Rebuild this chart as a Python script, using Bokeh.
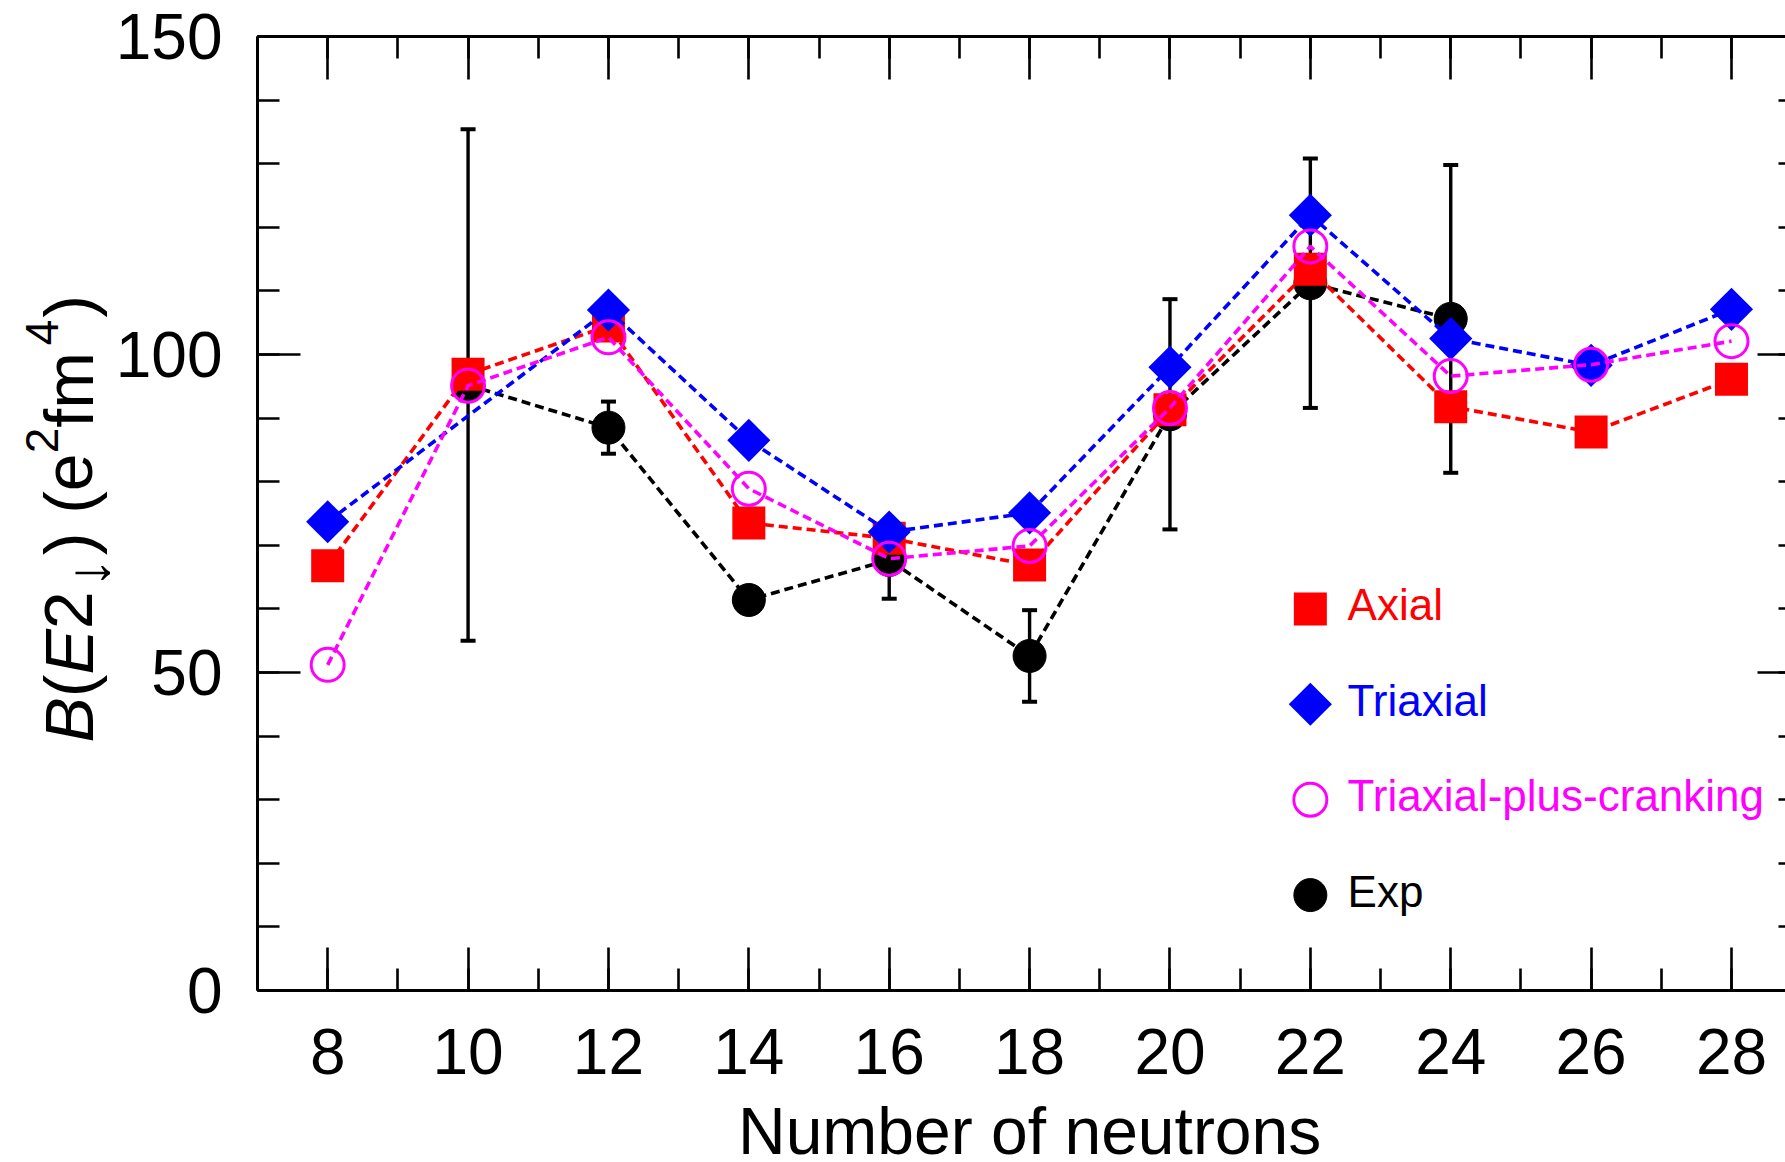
import numpy as np
from bokeh.plotting import figure
from bokeh.layouts import row, column
from bokeh.models import (Range1d, LinearAxis, SingleIntervalTicker, ColumnDataSource,
                          Whisker, TeeHead)
from bokeh.core.properties import value
from bokeh.embed import file_html
from bokeh.resources import INLINE

# Neutron numbers
neutrons = [8, 10, 12, 14, 16, 18, 20, 22, 24, 26, 28]

# B(E2; down) in e^2 fm^4
axial = [66.8, 96.9, 104.5, 73.5, 71.1, 66.9, 91.3, 113.4, 91.8, 87.8, 96.1]

triaxial_n = [8, 12, 14, 16, 18, 20, 22, 24, 26, 28]
triaxial = [73.7, 107.0, 86.5, 72.1, 75.1, 98.0, 121.9, 102.5, 98.3, 107.1]

cranking = [51.2, 95.1, 102.7, 78.9, 67.9, 69.9, 91.6, 117.0, 96.6, 98.4, 102.1]

exp_n = [10, 12, 14, 16, 18, 20, 22, 24]
exp_val = [95.2, 88.5, 61.4, 67.7, 52.6, 90.6, 111.2, 105.6]
exp_err = [40.2, 4.1, 0.0, 6.1, 7.2, 18.1, 19.6, 24.2]

legend_labels = ["Axial", "Triaxial", "Triaxial-plus-cranking", "Exp"]
legend_rows = [60, 45, 30, 15]

x_title = "Number of neutrons"

RED, BLUE, MAG, BLK = "#ff0000", "#0000ff", "#ff00ff", "#000000"
FONT = "Liberation Sans"
DASH = "9 5"
LW = 3.6
MID = 0.35               # baseline-to-middle distance, in em

# Helvetica/Arial advance widths (1/1000 em) for the title strings
ADV = {"B": 667, "(": 333, "E": 667, "2": 556, "\u2193": 500, ")": 333, " ": 278,
       "e": 556, "f": 278, "m": 833, "4": 556, "N": 722, "u": 556, "b": 556, "r": 333,
       "o": 556, "n": 556, "t": 278, "s": 500}


def text_width(s, size):
    return sum(ADV[c] for c in s) * size / 1000


# page geometry (pixels)
W, H = 1785, 1162
TITLE_W = 110            # strip on the left holding the rotated y title
TITLE_H = 58             # strip at the bottom holding the x title
PW = W - TITLE_W
PH = H - TITLE_H
L, T = 257 - TITLE_W, 36  # borders of the main plot
frame_h = 954
Bm = PH - T - frame_h
frame_w = PW - L
px_per_n = 70.19
x_end = 7 + frame_w / px_per_n
px_per_b = frame_h / 150

p = figure(width=PW, height=PH, x_range=Range1d(7, x_end), y_range=Range1d(0, 150),
           title=None, output_backend="svg", toolbar_location=None,
           x_axis_type=None, y_axis_type=None, frame_align=False,
           min_border_left=L, min_border_right=0, min_border_top=T, min_border_bottom=Bm,
           background_fill_color="white", border_fill_color="white")
p.outline_line_color = None
p.grid.visible = False


def axis(ticker, tick_in, minor_in, labels=True, standoff=0, line=True):
    ax = LinearAxis(ticker=ticker,
                    major_tick_in=tick_in, major_tick_out=0,
                    minor_tick_in=minor_in, minor_tick_out=0,
                    axis_line_width=3, major_tick_line_width=2.6, minor_tick_line_width=2.6,
                    axis_line_color=BLK if line else None,
                    major_label_standoff=standoff)
    if labels:
        ax.major_label_text_font = FONT
        ax.major_label_text_font_size = "64px"
        ax.major_label_text_color = BLK
    else:
        ax.major_label_text_font_size = "0px"
        ax.major_label_text_color = None
    return ax


xt = SingleIntervalTicker(interval=2, num_minor_ticks=2)
yt = SingleIntervalTicker(interval=50, num_minor_ticks=5)
p.add_layout(axis(xt, 43, 22, True, 38), "below")
p.add_layout(axis(yt, 43, 22, True, 35), "left")
p.add_layout(axis(xt, 43, 22, False), "above")
p.add_layout(axis(yt, 28, 7, False, line=False), "right")

# experimental error bars
eb = ColumnDataSource(dict(
    x=[n for n, e in zip(exp_n, exp_err) if e > 0],
    lo=[v - e for v, e in zip(exp_val, exp_err) if e > 0],
    hi=[v + e for v, e in zip(exp_val, exp_err) if e > 0]))
p.add_layout(Whisker(source=eb, base="x", lower="lo", upper="hi", dimension="height",
                     line_width=3.4, line_color=BLK,
                     lower_head=TeeHead(size=15, line_width=4, line_color=BLK),
                     upper_head=TeeHead(size=15, line_width=4, line_color=BLK)))

# Exp
p.line(exp_n, exp_val, line_color=BLK, line_width=LW, line_dash=DASH)
p.scatter(exp_n, exp_val, marker="circle", size=33, fill_color=BLK, line_color=BLK)

# Axial
p.line(neutrons, axial, line_color=RED, line_width=LW, line_dash=DASH)
p.scatter(neutrons, axial, marker="square", size=33, fill_color=RED, line_color=None)

# Triaxial
p.line(triaxial_n, triaxial, line_color=BLUE, line_width=LW, line_dash=DASH)
p.scatter(triaxial_n, triaxial, marker="square", angle=np.pi / 4, size=30.5,
          fill_color=BLUE, line_color=None)

# Triaxial-plus-cranking
p.line(neutrons, cranking, line_color=MAG, line_width=LW, line_dash=DASH)
p.scatter(neutrons, cranking, marker="circle", size=33, fill_color=None,
          line_color=MAG, line_width=3)

# legend
lx = 22
p.scatter([lx], [legend_rows[0]], marker="square", size=33, fill_color=RED, line_color=None)
p.scatter([lx], [legend_rows[1]], marker="square", angle=np.pi / 4, size=30.5,
          fill_color=BLUE, line_color=None)
p.scatter([lx], [legend_rows[2]], marker="circle", size=33, fill_color=None,
          line_color=MAG, line_width=3)
p.scatter([lx], [legend_rows[3]], marker="circle", size=33, fill_color=BLK, line_color=BLK)
p.text(x=[lx + 0.53] * 4, y=[r + 4 / px_per_b for r in legend_rows], text=legend_labels,
       text_color=[RED, BLUE, MAG, BLK], text_font=value(FONT),
       text_font_size="44px", text_baseline="middle", text_align="left")


def strip(width, height):
    f = figure(width=width, height=height, x_range=Range1d(0, width), y_range=Range1d(0, height),
               title=None, output_backend="svg", toolbar_location=None,
               x_axis_type=None, y_axis_type=None, frame_align=False,
               min_border=0, min_border_left=0, min_border_right=0,
               min_border_top=0, min_border_bottom=0,
               background_fill_color="white", border_fill_color="white")
    f.outline_line_color = None
    f.grid.visible = False
    return f


# x title strip: centred under the middle of the frame, near the page bottom
XT = 66
x_mid = L + TITLE_W + (18 - 7) * px_per_n
xs = strip(PW, TITLE_H)
xs.text(x=[x_mid - TITLE_W - text_width(x_title, XT) / 2], y=[8 + MID * XT], text=[x_title],
        text_font=value(FONT), text_font_size=f"{XT}px", text_color=BLK,
        text_align="left", text_baseline="middle")

# y title strip: B(E2↓) (e²fm⁴), assembled piece by piece and rotated
MAIN, SMALL, ARROW = 68, 46, 60
# (text, style, size, baseline shift, extra gap after)
parts = [("B", "italic", MAIN, 0, 0), ("(", "normal", MAIN, 0, 0), ("E", "italic", MAIN, 0, 0),
         ("2", "normal", MAIN, 0, 3), ("\u2193", "normal", ARROW, -17, 3),
         (")", "normal", MAIN, 0, 0), (" ", "normal", MAIN, 0, 0), ("(", "normal", MAIN, 0, 0),
         ("e", "normal", MAIN, 0, 0), ("2", "normal", SMALL, 34, 0), ("f", "normal", MAIN, 0, 0),
         ("m", "normal", MAIN, 0, 7), ("4", "normal", SMALL, 34, 2), (")", "normal", MAIN, 0, 0)]
base_x = 82 + (TITLE_W - 100)
pos = 742
yl = dict(x=[], y=[], text=[], style=[], size=[])
for ch, style, size, shift, gap in parts:
    if ch != " ":
        yl["x"].append(base_x - shift - MID * size)
        yl["y"].append(H - pos)
        yl["text"].append(ch)
        yl["style"].append(style)
        yl["size"].append(f"{size}px")
    pos -= text_width(ch, size) + gap

ys = strip(TITLE_W, H)
ys.text(x="x", y="y", text="text", source=ColumnDataSource(yl), angle=np.pi / 2,
        text_font=value(FONT), text_font_style="style", text_font_size="size",
        text_color=BLK, text_align="left", text_baseline="middle")

page = row(ys, column(p, xs))
open("out.html", "w").write(file_html(page, INLINE))
